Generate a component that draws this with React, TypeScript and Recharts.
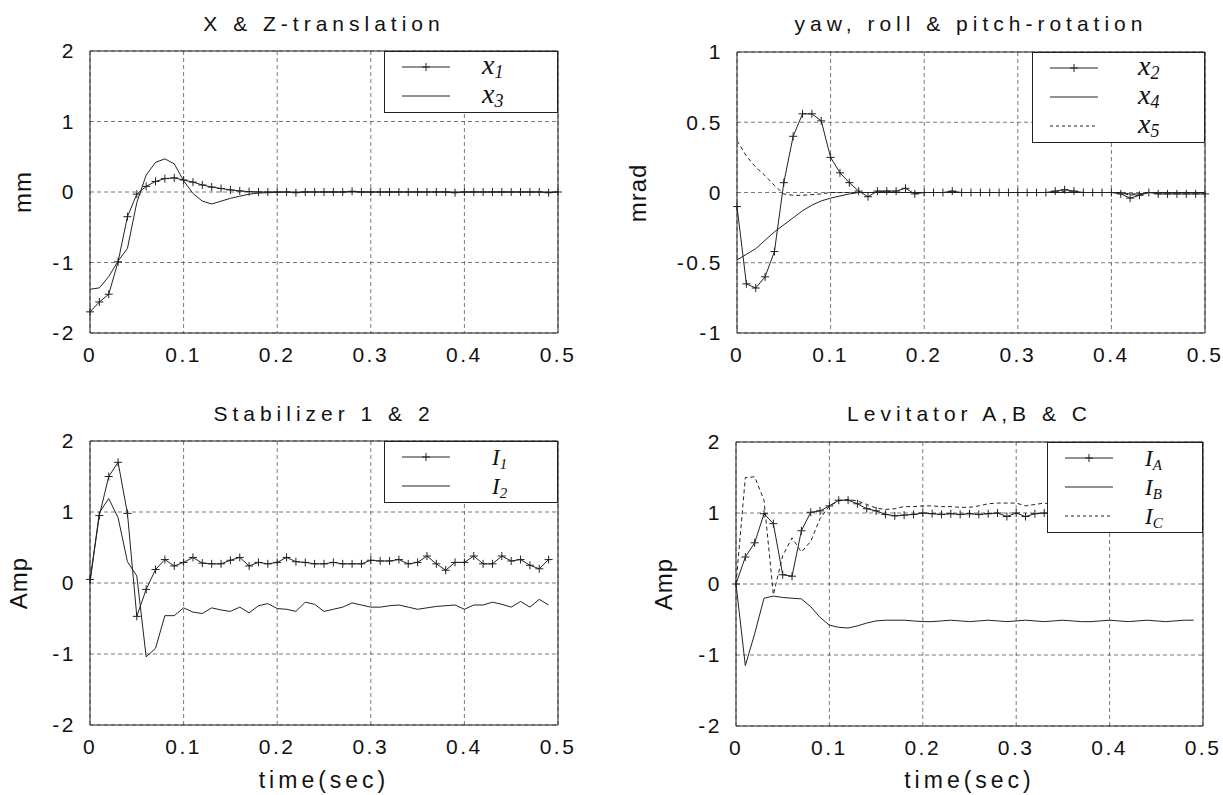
import React from "react"
import { CartesianGrid, Legend, Line, LineChart, ReferenceArea, XAxis, YAxis } from "recharts"

// sample instants (s), 0.01 s step
const time = [
  0, 0.01, 0.02, 0.03, 0.04, 0.05, 0.06, 0.07, 0.08, 0.09,
  0.1, 0.11, 0.12, 0.13, 0.14, 0.15, 0.16, 0.17, 0.18, 0.19,
  0.2, 0.21, 0.22, 0.23, 0.24, 0.25, 0.26, 0.27, 0.28, 0.29,
  0.3, 0.31, 0.32, 0.33, 0.34, 0.35, 0.36, 0.37, 0.38, 0.39,
  0.4, 0.41, 0.42, 0.43, 0.44, 0.45, 0.46, 0.47, 0.48, 0.49, 0.5,
]
const timeTicks = [0, 0.1, 0.2, 0.3, 0.4, 0.5]
const unitTicks = [-2, -1, 0, 1, 2]
const mradTicks = [-1, -0.5, 0, 0.5, 1]

// X & Z translation (mm)
const x1 = [
  -1.7, -1.56, -1.45, -0.99, -0.35, -0.03, 0.08, 0.15, 0.19, 0.2,
  0.17, 0.14, 0.1, 0.07, 0.05, 0.03, 0.015, 0.005, 0, 0,
  0, 0, -0.01, 0, 0, 0, 0, 0, 0.01, 0,
  0, 0, 0, 0, 0, 0, 0, 0, 0, -0.01,
  0, 0, 0, 0, 0, 0, 0, 0, 0, -0.01, 0,
]
const x3 = [
  -1.38, -1.36, -1.2, -0.98, -0.8, -0.15, 0.24, 0.42, 0.47, 0.4,
  0.16, -0.02, -0.13, -0.17, -0.13, -0.09, -0.06, -0.03, -0.015, -0.01,
  -0.005, 0, 0, 0, 0, 0, 0, 0, 0, 0,
  0, 0, 0, 0, 0, 0, 0, 0, 0, 0,
  0, 0, 0, 0, 0, 0, 0, 0, 0, 0, 0,
]

// yaw, roll & pitch rotation (mrad)
const x2 = [
  -0.1, -0.65, -0.68, -0.6, -0.42, 0.07, 0.4, 0.56, 0.56, 0.51,
  0.25, 0.14, 0.07, 0.01, -0.03, 0.01, 0.01, 0.01, 0.03, -0.01,
  0, 0, 0, 0.01, 0, 0, 0, 0, 0, 0,
  0, 0, 0, 0, 0.01, 0.02, 0.01, 0, 0, 0,
  0, -0.01, -0.04, -0.02, 0, -0.01, -0.01, -0.01, -0.01, -0.01, -0.01,
]
const x4 = [
  -0.48, -0.44, -0.4, -0.34, -0.28, -0.23, -0.18, -0.13, -0.09, -0.06,
  -0.04, -0.025, -0.01, 0, 0, 0, 0, 0, 0, 0,
  0, 0, 0, 0, 0, 0, 0, 0, 0, 0,
  0, 0, 0, 0, 0, 0, 0, 0, 0, 0,
  0, 0, -0.01, -0.01, 0, 0, 0, 0, 0, 0, 0,
]
const x5 = [
  0.37, 0.26, 0.18, 0.12, 0.05, -0.01, -0.02, -0.02, -0.015, -0.01,
  0, 0, 0, 0, 0, 0, 0.01, 0, 0, 0,
  0, 0, 0, 0, 0, 0, 0, 0, 0, 0,
  0, 0, 0, 0, 0, 0.01, 0, 0, 0, 0,
  0, 0, -0.02, -0.01, 0, 0, 0, 0, 0, 0, 0,
]

// stabilizer currents (A)
const i1 = [
  0.05, 0.95, 1.5, 1.7, 0.98, -0.47, -0.09, 0.19, 0.33, 0.24,
  0.29, 0.36, 0.28, 0.27, 0.27, 0.32, 0.36, 0.24, 0.29, 0.27,
  0.29, 0.36, 0.3, 0.29, 0.27, 0.27, 0.29, 0.27, 0.27, 0.27,
  0.32, 0.31, 0.31, 0.33, 0.27, 0.29, 0.38, 0.27, 0.18, 0.29,
  0.29, 0.38, 0.27, 0.27, 0.38, 0.31, 0.33, 0.25, 0.2, 0.33,
]
const i2 = [
  0, 0.99, 1.19, 0.92, 0.3, 0.1, -1.04, -0.92, -0.46, -0.46,
  -0.35, -0.41, -0.43, -0.35, -0.38, -0.4, -0.34, -0.42, -0.32, -0.29,
  -0.36, -0.37, -0.4, -0.27, -0.3, -0.4, -0.37, -0.34, -0.28, -0.31,
  -0.34, -0.34, -0.32, -0.31, -0.34, -0.37, -0.35, -0.33, -0.32, -0.31,
  -0.37, -0.31, -0.31, -0.27, -0.3, -0.34, -0.26, -0.34, -0.23, -0.31,
]

// levitator currents (A)
const iA = [
  0, 0.38, 0.58, 0.99, 0.85, 0.13, 0.11, 0.75, 1.01, 1.03,
  1.1, 1.18, 1.18, 1.13, 1.06, 1.03, 0.98, 0.96, 0.97, 0.98,
  1.0, 0.99, 0.98, 0.99, 0.98, 0.99, 0.98, 0.99, 1.0, 0.95,
  1.0, 0.95, 0.99, 1.0, 0.98, 1.0, 0.99, 0.98, 1.0, 0.99,
  0.98, 1.0, 0.99, 0.98, 1.0, 0.99, 0.98, 1.0, 0.99, 0.98,
]
const iB = [
  0, -1.15, -0.7, -0.2, -0.17, -0.19, -0.2, -0.21, -0.32, -0.47,
  -0.58, -0.61, -0.62, -0.59, -0.55, -0.52, -0.51, -0.51, -0.51, -0.52,
  -0.53, -0.53, -0.52, -0.51, -0.52, -0.53, -0.52, -0.51, -0.52, -0.53,
  -0.52, -0.51, -0.52, -0.53, -0.52, -0.51, -0.52, -0.53, -0.53, -0.52,
  -0.51, -0.52, -0.53, -0.52, -0.51, -0.52, -0.53, -0.52, -0.51, -0.51,
]
const iC = [
  0, 1.5, 1.51, 1.18, -0.15, 0.4, 0.65, 0.45, 0.6, 0.92,
  1.1, 1.17, 1.19, 1.17, 1.12, 1.07, 1.05, 1.06, 1.09, 1.09,
  1.1, 1.1, 1.09, 1.09, 1.08, 1.08, 1.1, 1.13, 1.14, 1.14,
  1.14, 1.1, 1.12, 1.14, 1.12, 1.1, 1.11, 1.12, 1.1, 1.11,
  1.12, 1.1, 1.11, 1.12, 1.1, 1.11, 1.12, 1.1, 1.11, 1.12,
]

const INK = "#222"
const SANS = '"Liberation Sans", Arial, Helvetica, sans-serif'
const SERIF = '"Liberation Serif", "Times New Roman", serif'

type Mark = "plus" | "solid" | "dashed"
interface Series {
  key: string
  values: number[]
  main: string
  sub: string
  mark: Mark
}

interface PanelCfg {
  left: number
  top: number
  width: number
  height: number
  plot: { x: number; y: number; w: number; h: number }
  title: string
  yLabel: string
  yLabelOffset: number
  yDomain: [number, number]
  yTicks: number[]
  series: Series[]
  legendW: number
  legendLabelX: number
  capital: boolean
  xLabel?: string
}

const plusDot = (props: any) => {
  const { cx, cy, index } = props
  if (cx == null || cy == null || Number.isNaN(cy)) return <g key={`p-${index}`} />
  return (
    <path
      key={`p-${index}`}
      d={`M${cx - 4} ${cy}H${cx + 4}M${cx} ${cy - 4}V${cy + 4}`}
      stroke={INK}
      strokeWidth={1}
      fill="none"
    />
  )
}

const ROW_H = 29
const legendHeight = (n: number) => 4 + n * ROW_H

function LegendBox({ series, width, labelX, capital }: { series: Series[]; width: number; labelX: number; capital: boolean }) {
  const h = legendHeight(series.length)
  return (
    <svg width={width} height={h} style={{ display: "block", overflow: "visible" }}>
      <rect x={0.5} y={0.5} width={width - 1} height={h - 1} fill="#fff" stroke={INK} strokeWidth={1} />
      {series.map((s, i) => {
        const cy = 16 + i * ROW_H
        return (
          <g key={s.key}>
            <line x1={18} x2={66} y1={cy} y2={cy} stroke={INK} strokeWidth={1} strokeDasharray={s.mark === "dashed" ? "3 3" : undefined} />
            {s.mark === "plus" && <path d={`M38 ${cy}H46M42 ${cy - 4}V${cy + 4}`} stroke={INK} strokeWidth={1} />}
            <text
              x={labelX}
              y={cy + (capital ? 8 : 7)}
              fontFamily={SERIF}
              fontStyle="italic"
              fontSize={capital ? 23 : 28}
              fill="#111"
            >
              {s.main}
              <tspan dy={4} fontSize={capital ? 15 : 18}>{s.sub}</tspan>
            </text>
          </g>
        )
      })}
    </svg>
  )
}

const tickStyle = { fill: "#111", fontSize: 21, fontFamily: SANS, letterSpacing: 2.5 }

function Panel({ cfg }: { cfg: PanelCfg }) {
  const { left, top, width, height, plot, series } = cfg
  const rows = series[0].values.map((_, i) => {
    const row: Record<string, number> = { t: time[i] }
    series.forEach((s) => {
      row[s.key] = s.values[i]
    })
    return row
  })
  const right = width - plot.x - plot.w
  const cx = plot.x + plot.w / 2
  const legendH = legendHeight(series.length)
  return (
    <div style={{ position: "absolute", left, top, width, height }}>
      <LineChart width={width} height={height} data={rows} margin={{ top: plot.y, right, bottom: 0, left: 0 }}>
        <CartesianGrid stroke="#555" strokeWidth={0.8} strokeDasharray="4 3" />
        <XAxis
          dataKey="t"
          type="number"
          domain={[0, 0.5]}
          ticks={timeTicks}
          interval={0}
          height={height - plot.y - plot.h}
          tickLine={false}
          axisLine={false}
          tickSize={6}
          tickMargin={8}
          tick={tickStyle}
        />
        <YAxis
          type="number"
          domain={cfg.yDomain}
          ticks={cfg.yTicks}
          interval={0}
          width={plot.x}
          tickLine={false}
          axisLine={false}
          tickSize={6}
          tickMargin={8}
          tick={tickStyle}
          allowDataOverflow
        />
        <ReferenceArea x1={0} x2={0.5} y1={cfg.yDomain[0]} y2={cfg.yDomain[1]} fill="none" stroke={INK} strokeWidth={1} />
        {series.map((s) => (
          <Line
            key={s.key}
            dataKey={s.key}
            type="linear"
            stroke={INK}
            strokeWidth={1}
            strokeDasharray={s.mark === "dashed" ? "4 3" : undefined}
            dot={s.mark === "plus" ? plusDot : false}
            activeDot={false}
            isAnimationActive={false}
          />
        ))}
        <Legend
          layout="vertical"
          align="center"
          verticalAlign="middle"
          wrapperStyle={{ left: plot.x + plot.w - cfg.legendW, top: plot.y, width: cfg.legendW, height: legendH, margin: 0, padding: 0 }}
          content={() => <LegendBox series={series} width={cfg.legendW} labelX={cfg.legendLabelX} capital={cfg.capital} />}
        />
      </LineChart>
      <div
        style={{
          position: "absolute",
          left: cx,
          top: 23,
          transform: "translate(-50%, -50%)",
          whiteSpace: "nowrap",
          fontFamily: SANS,
          fontSize: 21,
          letterSpacing: 5,
          lineHeight: 1,
          color: "#111",
        }}
      >
        {cfg.title}
      </div>
      <div
        style={{
          position: "absolute",
          left: plot.x - cfg.yLabelOffset,
          top: plot.y + plot.h / 2,
          transform: "translate(-50%, -50%) rotate(-90deg)",
          whiteSpace: "nowrap",
          fontFamily: SANS,
          fontSize: 24,
          letterSpacing: 1,
          lineHeight: 1,
          color: "#111",
        }}
      >
        {cfg.yLabel}
      </div>
      {cfg.xLabel && (
        <div
          style={{
            position: "absolute",
            left: cx,
            top: 390,
            transform: "translate(-50%, -50%)",
            whiteSpace: "nowrap",
            fontFamily: SANS,
            fontSize: 23,
            letterSpacing: 4,
            lineHeight: 1,
            color: "#111",
          }}
        >
          {cfg.xLabel}
        </div>
      )}
    </div>
  )
}

const panels: PanelCfg[] = [
  {
    left: 0, top: 0, width: 612, height: 390,
    plot: { x: 90, y: 51, w: 468, h: 282 },
    title: "X & Z-translation", yLabel: "mm", yLabelOffset: 67,
    yDomain: [-2, 2], yTicks: unitTicks,
    series: [
      { key: "x1", values: x1, main: "x", sub: "1", mark: "plus" },
      { key: "x3", values: x3, main: "x", sub: "3", mark: "solid" },
    ],
    legendW: 174, legendLabelX: 98, capital: false,
  },
  {
    left: 612, top: 0, width: 611, height: 390,
    plot: { x: 125, y: 52, w: 468, h: 281 },
    title: "yaw, roll & pitch-rotation", yLabel: "mrad", yLabelOffset: 99,
    yDomain: [-1, 1], yTicks: mradTicks,
    series: [
      { key: "x2", values: x2, main: "x", sub: "2", mark: "plus" },
      { key: "x4", values: x4, main: "x", sub: "4", mark: "solid" },
      { key: "x5", values: x5, main: "x", sub: "5", mark: "dashed" },
    ],
    legendW: 173, legendLabelX: 106, capital: false,
  },
  {
    left: 0, top: 390, width: 612, height: 405,
    plot: { x: 90, y: 51, w: 468, h: 284 },
    title: "Stabilizer 1 & 2", yLabel: "Amp", yLabelOffset: 71,
    yDomain: [-2, 2], yTicks: unitTicks,
    series: [
      { key: "i1", values: i1, main: "I", sub: "1", mark: "plus" },
      { key: "i2", values: i2, main: "I", sub: "2", mark: "solid" },
    ],
    legendW: 174, legendLabelX: 108, capital: true, xLabel: "time(sec)",
  },
  {
    left: 612, top: 390, width: 611, height: 405,
    plot: { x: 124, y: 52, w: 467, h: 284 },
    title: "Levitator A,B & C", yLabel: "Amp", yLabelOffset: 72,
    yDomain: [-2, 2], yTicks: unitTicks,
    series: [
      { key: "iA", values: iA, main: "I", sub: "A", mark: "plus" },
      { key: "iB", values: iB, main: "I", sub: "B", mark: "solid" },
      { key: "iC", values: iC, main: "I", sub: "C", mark: "dashed" },
    ],
    legendW: 156, legendLabelX: 98, capital: true, xLabel: "time(sec)",
  },
]

export default function App() {
  return (
    <div style={{ position: "absolute", left: 0, top: 0, width: 1223, height: 795, background: "#fff", overflow: "hidden" }}>
      {panels.map((p) => (
        <Panel key={p.title} cfg={p} />
      ))}
    </div>
  )
}
